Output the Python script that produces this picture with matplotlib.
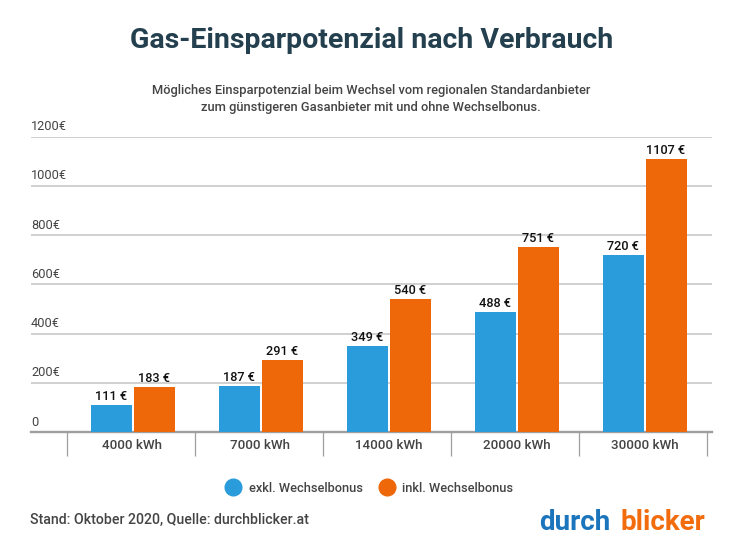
import numpy as np
import matplotlib
matplotlib.use('Agg')
import matplotlib.pyplot as plt
from matplotlib.lines import Line2D

plt.rcParams['font.family'] = 'Roboto'

categories = ['4000 kWh', '7000 kWh', '14000 kWh', '20000 kWh', '30000 kWh']
exkl = [111, 187, 349, 488, 720]
inkl = [183, 291, 540, 751, 1107]
yticks = [0, 200, 400, 600, 800, 1000, 1200]
ylabels = ['0', '200€', '400€', '600€', '800€', '1000€', '1200€']
series_names = ['exkl. Wechselbonus', 'inkl. Wechselbonus']

BLUE = '#2a9cdb'
ORANGE = '#ee6708'
GREY = '#444444'

fig = plt.figure(figsize=(7.5, 5.5), dpi=100)
W, H = 750, 550
# plot area in pixels of the reference
ax = fig.add_axes([31 / W, (H - 432) / H, 681 / W, 295.5 / H])

x = np.arange(len(categories))
bw = 41 / 128
off = 21.5 / 128
b1 = ax.bar(x - off, exkl, bw, color=BLUE, zorder=3)
b2 = ax.bar(x + off, inkl, bw, color=ORANGE, zorder=3)

for bars, vals in ((b1, exkl), (b2, inkl)):
    for r, v in zip(bars, vals):
        ax.annotate(f'{v} €', (r.get_x() + r.get_width() / 2, v), xytext=(0, 1.5),
                    textcoords='offset points', ha='center', va='bottom',
                    fontsize=9.2, fontweight='medium', color='#111111', zorder=4)

ax.set_xlim((31 - 132.5) / 128, (712 - 132.5) / 128)
ax.set_ylim(0, 1200)

ax.set_yticks(yticks)
ax.set_yticklabels([])
ax.tick_params(axis='y', length=0)
ax.grid(axis='y', color='#c4c4c4', linewidth=1.1, zorder=0)
ax.set_axisbelow(True)
for v, lab in zip(yticks, ylabels):
    ax.annotate(lab, (0, v), xycoords=ax.get_yaxis_transform(), xytext=(0, 2.5),
                textcoords='offset points', ha='left', va='bottom',
                fontsize=9.2, color=GREY)

for s in ['top', 'left', 'right']:
    ax.spines[s].set_visible(False)
ax.spines['bottom'].set_color('#9e9e9e')
ax.spines['bottom'].set_linewidth(1.7)

ax.set_xticks(x)
ax.set_xticklabels(categories, fontsize=9.6, fontweight='medium', color=GREY)
ax.tick_params(axis='x', which='major', length=0, pad=5)
ax.set_xticks(np.arange(len(categories) + 1) - 0.5 - 1.5 / 128, minor=True)
ax.tick_params(axis='x', which='minor', length=17, width=0.9, color='#9e9e9e')

fig.text(372 / W, 1 - 40 / H, 'Gas-Einsparpotenzial nach Verbrauch', ha='center', va='center',
         fontsize=20.5, fontweight='bold', color='#24404f')
fig.text(371 / W, 1 - 99 / H,
         'Mögliches Einsparpotenzial beim Wechsel vom regionalen Standardanbieter\n'
         'zum günstigeren Gasanbieter mit und ohne Wechselbonus.',
         ha='center', va='center', fontsize=9.3, fontweight='medium', color=GREY, linespacing=1.45)

handles = [Line2D([], [], linestyle='none', marker='o', markersize=12, color=c) for c in (BLUE, ORANGE)]
leg = fig.legend(handles, series_names, loc='center', bbox_to_anchor=(367 / W, 1 - 488 / H),
                 ncol=2, frameon=False, handletextpad=0.2, columnspacing=0.9,
                 prop={'size': 9.2, 'weight': 'medium'})
for t in leg.get_texts():
    t.set_color(GREY)

fig.text(30 / W, 1 - 520 / H, 'Stand: Oktober 2020, Quelle: durchblicker.at', ha='left', va='center',
         fontsize=10.2, fontweight='medium', color=GREY)

# logo as two pieces of text
logo1 = fig.text(539 / W, 1 - 530 / H, 'durch', ha='left', va='baseline',
                 fontsize=20, fontweight='bold', color='#1a75bc')
fig.text(620 / W, 1 - 530 / H, 'blicker', ha='left', va='baseline',
         fontsize=20, fontweight='bold', color='#f26c0d')

fig.savefig('out.png', dpi=100)
